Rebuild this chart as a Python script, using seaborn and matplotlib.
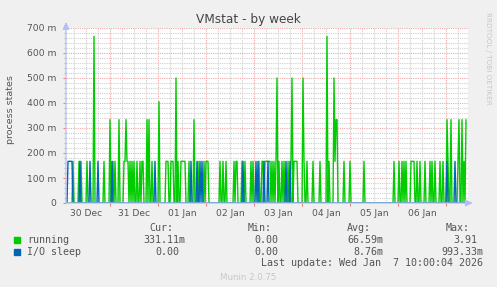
import datetime as dt
import numpy as np
import pandas as pd
import matplotlib
matplotlib.use("Agg")
import matplotlib.pyplot as plt
import matplotlib.dates as mdates
from matplotlib.ticker import MultipleLocator, FuncFormatter
from matplotlib.patches import Rectangle
import seaborn as sns

# ---------------- data (30-minute samples) ----------------
start_time = dt.datetime(2025, 12, 30, 2, 0)
n_samples = 401
step_minutes = 30

# running: sample indices per level (processes)
running_167 = [7, 13, 15, 21, 38, 47, 49, 58, 59, 61, 62, 64, 66, 68, 71, 74, 76, 77, 86,
               100, 101, 102, 105, 106, 107, 112, 115, 116, 117, 118, 119, 123, 132, 138,
               140, 141, 142, 154, 157, 160, 168, 170, 171, 176, 179, 185, 187, 193, 196,
               197, 199, 200, 201, 202, 203, 204, 206, 208, 210, 213, 216, 218, 222, 225,
               228, 229, 230, 231, 238, 241, 247, 254, 263, 269, 278, 284, 298, 328, 333,
               336, 338, 340, 345, 346, 347, 348, 351, 354, 359, 364, 366, 369, 374, 377,
               382, 392, 398]
running_333 = [44, 53, 60, 81, 83, 128, 270, 271, 381, 385, 393, 396, 400]
running_405 = [93]
running_500 = [110, 211, 226, 237, 268]
running_667 = [28, 261]

# I/O sleep: sample indices at 166.67m
iosleep_167 = [2, 3, 4, 5, 6, 14, 24, 32, 46, 89, 125, 131, 134, 136, 177, 190, 192,
               198, 202, 220, 224, 381, 389]

series_names = ["running", "I/O sleep"]
series_colors = ["#00cc00", "#0066b3"]

y_ticks = [0, 0.1, 0.2, 0.3, 0.4, 0.5, 0.6, 0.7]
day_labels_fmt = "%d %b"

legend_cur = ["331.11m", "0.00"]
legend_min = ["0.00", "0.00"]
legend_avg = ["66.59m", "8.76m"]
legend_max = ["3.91", "993.33m"]
last_update = "Last update: Wed Jan  7 10:00:04 2026"

# ---------------- build long-form frame ----------------
times = [start_time + dt.timedelta(minutes=step_minutes * i) for i in range(n_samples)]
running = np.zeros(n_samples)
for idxs, val in [(running_167, 1 / 6), (running_333, 2 / 6), (running_405, 0.405),
                  (running_500, 3 / 6), (running_667, 4 / 6)]:
    running[idxs] = val
iosleep = np.zeros(n_samples)
iosleep[iosleep_167] = 1 / 6

df = pd.concat([
    pd.DataFrame({"time": times, "value": running, "series": "running"}),
    pd.DataFrame({"time": times, "value": iosleep, "series": "I/O sleep"}),
], ignore_index=True)

# ---------------- figure ----------------
W, H = 497, 287
sns.set_theme(style="white")
plt.rcParams["font.family"] = ["DejaVu Sans"]
fig = plt.figure(figsize=(W / 100, H / 100), dpi=100, facecolor="#f0f0f0")
ax = fig.add_axes([66 / W, 1 - 203 / H, (468 - 66) / W, (203 - 28) / H])
ax.set_facecolor("#ffffff")

txt = "#555555"

# grid
ax.yaxis.set_major_locator(MultipleLocator(0.1))
ax.yaxis.set_minor_locator(MultipleLocator(0.02))
ax.xaxis.set_major_locator(mdates.DayLocator())
ax.xaxis.set_minor_locator(mdates.HourLocator(byhour=[6, 12, 18]))
ax.grid(which="minor", color="#d0d0d0", linestyle=(0, (1, 1)), linewidth=0.8)
ax.grid(which="major", color="#f0a8a8", linestyle=(0, (1, 1)), linewidth=0.8)
ax.set_axisbelow(True)

sns.lineplot(data=df, x="time", y="value", hue="series", hue_order=series_names,
             palette=series_colors, linewidth=1.0, estimator=None, legend=False, ax=ax,
             zorder=3)

ax.set_xlim(start_time, start_time + dt.timedelta(minutes=step_minutes * 402))
ax.set_ylim(0, 0.7)

ax.yaxis.set_major_formatter(FuncFormatter(lambda v, p: "0" if abs(v) < 1e-9 else f"{int(round(v * 1000))} m"))
ax.xaxis.set_major_formatter(FuncFormatter(lambda v, p: ""))


def minor_fmt(v, p):
    d = mdates.num2date(v)
    return d.strftime(day_labels_fmt) if d.hour == 12 else ""


ax.xaxis.set_minor_formatter(FuncFormatter(minor_fmt))
ax.tick_params(axis="y", which="major", labelsize=6.6, labelcolor=txt, color="#f08080",
               length=2, width=0.8, pad=5, left=True)
ax.tick_params(axis="y", which="minor", length=1.5, color="#c0c0c0", left=True)
ax.tick_params(axis="x", which="major", length=2, color="#f08080", width=0.8, bottom=True)
ax.tick_params(axis="x", which="minor", labelsize=6.6, labelcolor=txt, length=0, pad=4)
ax.set_xlabel("")
ax.set_ylabel("")

for s in ax.spines.values():
    s.set_visible(False)

axis_col = "#b4bef6"
ax.annotate("", xy=(1.012, 0), xytext=(0, 0), xycoords="axes fraction",
            arrowprops=dict(arrowstyle="-|>,head_length=0.35,head_width=0.16", color=axis_col,
                            lw=0.9, shrinkA=0, shrinkB=0), annotation_clip=False, zorder=5)
ax.annotate("", xy=(0, 1.035), xytext=(0, 0), xycoords="axes fraction",
            arrowprops=dict(arrowstyle="-|>,head_length=0.35,head_width=0.16", color=axis_col,
                            lw=0.9, shrinkA=0, shrinkB=0), annotation_clip=False, zorder=5)

# texts
fig.text(248 / W, 1 - 19 / H, "VMstat - by week", ha="center", va="center",
         fontsize=8.7, color="#444444")
fig.text(11 / W, 1 - 110 / H, "process states", ha="center", va="center",
         rotation=90, fontsize=6.8, color=txt)
fig.text(488 / W, 1 - 58 / H, "RRDTOOL / TOBI OETIKER", ha="center", va="center",
         rotation=270, fontsize=5.2, color="#c8c8c8")

mono = "DejaVu Sans Mono"
fs = 7.2
hdr_y = 228
for label, xr in [("Cur:", 173), ("Min:", 272), ("Avg:", 371), ("Max:", 470)]:
    fig.text(xr / W, 1 - hdr_y / H, label, ha="right", va="center", family=mono,
             fontsize=fs, color=txt)


def right_edge(val, base):
    return base if val.endswith("m") else base - 6


row_y = [240, 252]
for i, name in enumerate(series_names):
    y = 1 - row_y[i] / H
    fig.add_artist(Rectangle((14 / W, 1 - (row_y[i] + 3) / H), 6 / W, 6 / H,
                             transform=fig.transFigure, color=series_colors[i]))
    fig.text(27 / W, y, name, ha="left", va="center", family=mono, fontsize=fs, color=txt)
    for vals, base in [(legend_cur, 185), (legend_min, 284), (legend_avg, 383), (legend_max, 483)]:
        v = vals[i]
        fig.text(right_edge(v, base) / W, y, v, ha="right", va="center", family=mono,
                 fontsize=fs, color=txt)

fig.text(483 / W, 1 - 263 / H, last_update, ha="right", va="center", family=mono,
         fontsize=fs, color=txt)
fig.text(248 / W, 1 - 277 / H, "Munin 2.0.75", ha="center", va="center",
         fontsize=6.2, color="#c8c8c8")

fig.savefig("out.png", dpi=100, facecolor=fig.get_facecolor())
